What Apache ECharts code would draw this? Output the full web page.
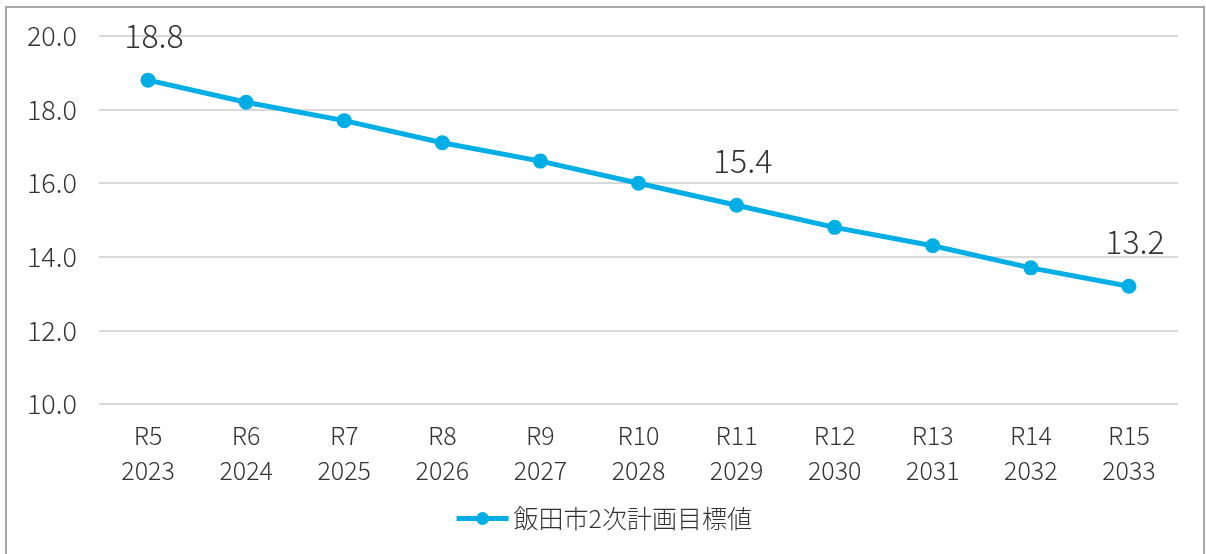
<!DOCTYPE html>
<html>
<head>
<meta charset="utf-8">
<script src="https://cdn.jsdelivr.net/npm/echarts@6/dist/echarts.min.js"></script>
<style>
html, body { margin: 0; padding: 0; background: #fff; }
#chart { width: 1206px; height: 554px; }
</style>
</head>
<body>
<div id="chart"></div>
<script>
var reiwa = ['R5', 'R6', 'R7', 'R8', 'R9', 'R10', 'R11', 'R12', 'R13', 'R14', 'R15'];
var years = ['2023', '2024', '2025', '2026', '2027', '2028', '2029', '2030', '2031', '2032', '2033'];
var targetValues = [18.8, 18.2, 17.7, 17.1, 16.6, 16.0, 15.4, 14.8, 14.3, 13.7, 13.2];
var labelledIndex = [0, 6, 10];
var seriesName = '飯田市2次計画目標値';

var fontFamily = '"Noto Sans CJK JP", "Noto Sans", sans-serif';
var textColor = '#333';
var lineColor = '#00aee6';

const chart = echarts.init(document.getElementById('chart'));

var categories = reiwa.map(function (r, i) {
    return r + '\n' + years[i];
});

var seriesData = targetValues.map(function (v, i) {
    var item = { value: v };
    if (labelledIndex.indexOf(i) >= 0) {
        item.label = { show: true };
    }
    return item;
});

var option = {
    animation: false,
    textStyle: { fontFamily: fontFamily, fontWeight: 300 },
    graphic: [{
        type: 'rect',
        shape: { x: 6, y: 7, width: 1198, height: 560 },
        style: { fill: 'none', stroke: '#a6a6a6', lineWidth: 2 },
        silent: true
    }],
    grid: {
        left: 99,
        right: 28,
        top: 36,
        bottom: 150
    },
    legend: {
        bottom: 18,
        left: 'center',
        itemWidth: 52,
        itemHeight: 16,
        itemGap: 8,
        lineStyle: { width: 5 },
        textStyle: {
            fontSize: 25,
            color: textColor,
            fontWeight: 300,
            fontFamily: fontFamily
        },
        data: [seriesName]
    },
    xAxis: {
        type: 'category',
        data: categories,
        boundaryGap: true,
        axisLine: { show: false },
        axisTick: { show: false },
        axisLabel: {
            fontSize: 25,
            color: textColor,
            fontWeight: 300,
            lineHeight: 35,
            margin: 14,
            fontFamily: fontFamily
        }
    },
    yAxis: {
        type: 'value',
        min: 10,
        max: 20,
        interval: 2,
        axisLine: { show: false },
        axisTick: { show: false },
        axisLabel: {
            fontSize: 27,
            color: textColor,
            fontWeight: 300,
            margin: 22,
            fontFamily: fontFamily,
            formatter: function (v) { return v.toFixed(1); }
        },
        splitLine: {
            lineStyle: { color: '#d9d9d9', width: 2 }
        }
    },
    series: [{
        name: seriesName,
        type: 'line',
        data: seriesData,
        symbol: 'circle',
        symbolSize: 15,
        lineStyle: { color: lineColor, width: 5 },
        itemStyle: { color: lineColor },
        label: {
            show: false,
            position: 'top',
            distance: 21,
            offset: [6, 0],
            fontSize: 32,
            color: textColor,
            fontWeight: 300,
            fontFamily: fontFamily,
            formatter: function (p) { return p.value.toFixed(1); }
        }
    }]
};
option && chart.setOption(option);
</script>
</body>
</html>
